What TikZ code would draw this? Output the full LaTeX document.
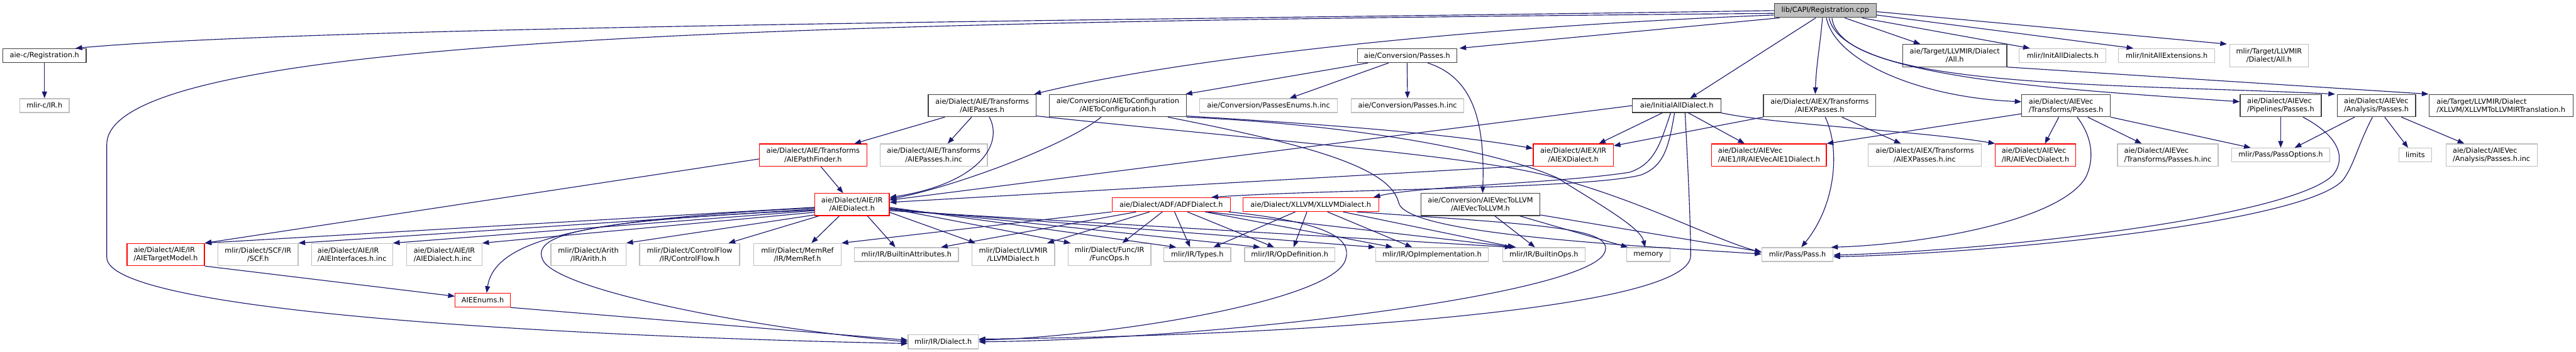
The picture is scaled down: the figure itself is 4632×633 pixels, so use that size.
\documentclass[tikz,border=0pt]{standalone}
\usepackage{fontspec}
\setmainfont{DejaVu Sans}
\usetikzlibrary{arrows.meta}
\definecolor{dxedge}{RGB}{25,25,112}
\definecolor{dxgrey}{RGB}{191,191,191}
\definecolor{dxdark}{RGB}{64,64,64}
\definecolor{dxred}{RGB}{255,0,0}

\begin{document}
\begin{tikzpicture}[x=1pt, y=-1pt, font=\fontsize{12.8}{15}\selectfont, >={Triangle[length=12pt,width=9pt]}]
  \tikzset{hdr/.style={draw, line width=1.4pt, align=center, inner xsep=3pt, inner ysep=2pt, minimum height=25pt, fill=white},rootbox/.style={hdr, draw=dxdark, fill=dxgrey},docbox/.style={hdr, draw=dxdark},extbox/.style={hdr, draw=dxgrey},cutbox/.style={hdr, draw=dxred},two/.style={minimum height=40pt},lft/.style={align=left},inc/.style={->, draw=dxedge, line width=1.3pt}}
  \useasboundingbox (0,0) rectangle (4632,633);
  % upper rows
  \node[rootbox, minimum width=183pt] (reg) at (3282,19) {lib/CAPI/Registration.cpp};
  \node[docbox, minimum width=150pt] (regh) at (80,100) {aie-c/Registration.h};
  \node[extbox, minimum width=89pt] (mlircir) at (80,190) {mlir-c/IR.h};
  \node[docbox, two, minimum width=194pt] (aiepasses) at (1766,190) {aie/Dialect/AIE/Transforms\\/AIEPasses.h};
  \node[docbox, two, minimum width=246pt] (aietoconf) at (2010,190) {aie/Conversion/AIEToConfiguration\\/AIEToConfiguration.h};
  \node[extbox, minimum width=248pt] (passesenums) at (2281,190) {aie/Conversion/PassesEnums.h.inc};
  \node[docbox, minimum width=179pt] (convpasses) at (2530,100) {aie/Conversion/Passes.h};
  \node[extbox, minimum width=202pt] (convpassesinc) at (2531,190) {aie/Conversion/Passes.h.inc};
  \node[docbox, minimum width=159pt] (initall) at (3015,190) {aie/InitialAllDialect.h};
  \node[docbox, two, minimum width=187pt] (aietgtall) at (3515,100) {aie/Target/LLVMIR/Dialect\\/All.h};
  \node[extbox, minimum width=156pt] (mlirinitdial) at (3709,100) {mlir/InitAllDialects.h};
  \node[extbox, minimum width=173pt] (mlirinitext) at (3896,100) {mlir/InitAllExtensions.h};
  \node[extbox, two, minimum width=142pt] (mlirtgtall) at (4080,100) {mlir/Target/LLVMIR\\/Dialect/All.h};
  \node[docbox, two, minimum width=202pt] (aiexpasses) at (3272,190) {aie/Dialect/AIEX/Transforms\\/AIEXPasses.h};
  \node[docbox, two, lft, minimum width=159pt] (vectrans) at (3715,190) {aie/Dialect/AIEVec\\/Transforms/Passes.h};
  \node[docbox, two, lft, minimum width=146pt] (vecpipe) at (4101,190) {aie/Dialect/AIEVec\\/Pipelines/Passes.h};
  \node[docbox, two, lft, minimum width=141pt] (vecanal) at (4273,190) {aie/Dialect/AIEVec\\/Analysis/Passes.h};
  \node[docbox, two, lft, minimum width=259pt] (xllvmtrans) at (4497,190) {aie/Target/LLVMIR/Dialect\\/XLLVM/XLLVMToLLVMIRTranslation.h};
  \node[cutbox, two, minimum width=193pt] (aiepathfinder) at (1462,279) {aie/Dialect/AIE/Transforms\\/AIEPathFinder.h};
  \node[extbox, two, minimum width=193pt] (aiepassesinc) at (1679,279) {aie/Dialect/AIE/Transforms\\/AIEPasses.h.inc};
  \node[cutbox, two, minimum width=144pt] (aiexdialect) at (2829,279) {aie/Dialect/AIEX/IR\\/AIEXDialect.h};
  \node[cutbox, two, lft, minimum width=206pt] (aie1) at (3181,279) {aie/Dialect/AIEVec\\/AIE1/IR/AIEVecAIE1Dialect.h};
  \node[extbox, two, minimum width=203pt] (aiexpassesinc) at (3461,279) {aie/Dialect/AIEX/Transforms\\/AIEXPasses.h.inc};
  \node[cutbox, two, lft, minimum width=144pt] (vecdialect) at (3660,279) {aie/Dialect/AIEVec\\/IR/AIEVecDialect.h};
  \node[extbox, two, lft, minimum width=181pt] (vectransinc) at (3898,279) {aie/Dialect/AIEVec\\/Transforms/Passes.h.inc};
  \node[extbox, minimum width=176pt] (passoptions) at (4101,279) {mlir/Pass/PassOptions.h};
  \node[extbox, minimum width=59pt] (limits) at (4343,279) {limits};
  \node[extbox, two, lft, minimum width=164pt] (vecanalinc) at (4480,279) {aie/Dialect/AIEVec\\/Analysis/Passes.h.inc};
  % dialect row
  \node[cutbox, two, minimum width=134pt] (aiedialect) at (1532,368) {aie/Dialect/AIE/IR\\/AIEDialect.h};
  \node[cutbox, minimum width=213pt] (adf) at (2106,368) {aie/Dialect/ADF/ADFDialect.h};
  \node[cutbox, minimum width=244pt] (xllvm) at (2357,368) {aie/Dialect/XLLVM/XLLVMDialect.h};
  \node[docbox, two, minimum width=214pt] (vectollvm) at (2662,368) {aie/Conversion/AIEVecToLLVM\\/AIEVecToLLVM.h};
  % lower rows
  \node[cutbox, two, lft, minimum width=139pt] (aietargetmodel) at (298,458) {aie/Dialect/AIE/IR\\/AIETargetModel.h};
  \node[extbox, two, minimum width=144pt] (scf) at (464,458) {mlir/Dialect/SCF/IR\\/SCF.h};
  \node[extbox, two, lft, minimum width=146pt] (aieinterfaces) at (633,458) {aie/Dialect/AIE/IR\\/AIEInterfaces.h.inc};
  \node[extbox, two, lft, minimum width=135pt] (aiedialectinc) at (799,458) {aie/Dialect/AIE/IR\\/AIEDialect.h.inc};
  \node[extbox, two, minimum width=135pt] (arith) at (1058,458) {mlir/Dialect/Arith\\/IR/Arith.h};
  \node[extbox, two, minimum width=180pt] (cf) at (1240,458) {mlir/Dialect/ControlFlow\\/IR/ControlFlow.h};
  \node[extbox, two, minimum width=157pt] (memref) at (1434,458) {mlir/Dialect/MemRef\\/IR/MemRef.h};
  \node[extbox, minimum width=187pt] (builtinattr) at (1630,458) {mlir/IR/BuiltinAttributes.h};
  \node[extbox, two, minimum width=149pt] (llvmdialect) at (1822,458) {mlir/Dialect/LLVMIR\\/LLVMDialect.h};
  \node[extbox, two, minimum width=149pt] (funcops) at (1995,458) {mlir/Dialect/Func/IR\\/FuncOps.h};
  \node[extbox, minimum width=120pt] (types) at (2153,458) {mlir/IR/Types.h};
  \node[extbox, minimum width=162pt] (opdef) at (2319,458) {mlir/IR/OpDefinition.h};
  \node[extbox, minimum width=203pt] (opimpl) at (2575,458) {mlir/IR/OpImplementation.h};
  \node[extbox, minimum width=148pt] (builtinops) at (2776,458) {mlir/IR/BuiltinOps.h};
  \node[extbox, minimum width=78pt] (memory) at (2964,458) {memory};
  \node[extbox, minimum width=128pt] (passh) at (3232,458) {mlir/Pass/Pass.h};
  \node[cutbox, minimum width=99pt] (aieenums) at (868,540) {AIEEnums.h};
  \node[extbox, minimum width=126pt] (dialecth) at (1696,615) {mlir/IR/Dialect.h};
  % includes of the root file
  \draw[inc] (reg.west) .. controls (2200,35) and (600,45) .. ([xshift=-20pt]regh.north east);
  \draw[inc] ([yshift=-5pt]reg.west) .. controls (1500,40) and (192,60) .. (192,260) -- (192,463) .. controls (192,560) and (1000,605) .. ([yshift=-3pt]dialecth.west);
  \draw[inc] ([yshift=-8pt]reg.west) .. controls (2600,50) and (2100,110) .. ([xshift=-4pt]aiepasses.north east);
  \draw[inc] ([xshift=10pt]reg.south west) -- ([xshift=4pt]convpasses.north east);
  \draw[inc] ([xshift=-17pt]reg.south) -- ([xshift=24pt]initall.north);
  \draw[inc] ([xshift=-5pt]reg.south) to[out=-95,in=88] ([xshift=-8pt]aiexpasses.north);
  \draw[inc] ([xshift=2pt]reg.south) .. controls (3300,110) and (3450,175) .. ([yshift=7pt]vectrans.west);
  \draw[inc] ([xshift=7pt]reg.south) .. controls (3310,140) and (3700,160) .. ([yshift=7pt]vecpipe.west);
  \draw[inc] ([xshift=12pt]reg.south) .. controls (3310,160) and (3800,150) .. ([xshift=-3pt]vecanal.north west);
  \draw[inc] ([xshift=35pt]reg.south) -- ([xshift=-62pt]aietgtall.north);
  \draw[inc] ([xshift=66pt]reg.south) -- ([xshift=-59pt]mlirinitdial.north);
  \draw[inc] ([yshift=-8pt]reg.east) -- ([xshift=-60pt]mlirinitext.north);
  \draw[inc] ([yshift=-2pt]reg.east) -- ([xshift=-4pt]mlirtgtall.north west);
  \draw[inc] (aietgtall.south east) -- (xllvmtrans.north west);
  \draw[inc] (regh) -- (mlircir);
  % conversion passes
  \draw[inc] ([xshift=-70pt]convpasses.south) -- ([xshift=-2pt]aietoconf.north east);
  \draw[inc] ([xshift=-33pt]convpasses.south) -- ([xshift=38pt]passesenums.north);
  \draw[inc] (convpasses) -- (convpassesinc);
  \draw[inc] ([xshift=37pt]convpasses.south) .. controls (2650,140) and (2670,220) .. ([xshift=4pt]vectollvm.north);
  \draw[inc] ([xshift=-30pt]aietoconf.south) .. controls (1920,260) and (1720,335) .. ([yshift=-11pt]aiedialect.north east);
  \draw[inc] ([yshift=2pt]aietoconf.south east) .. controls (2400,225) and (2600,240) .. ([yshift=12pt]aiexdialect.west);
  \draw[inc] ([xshift=90pt]aietoconf.south) .. controls (2350,260) and (2500,300) .. (2515,365) .. controls (2530,420) and (2900,440) .. ([yshift=1pt]passh.west);
  \draw[inc] (aietoconf.south east) .. controls (2450,225) and (2700,275) .. (2800,320) .. controls (2880,370) and (2950,410) .. ([xshift=-6pt]memory.north);
  % AIE transforms
  \draw[inc] ([xshift=-67pt]aiepasses.south) -- ([xshift=-23pt]aiepathfinder.north east);
  \draw[inc] ([xshift=-19pt]aiepasses.south) -- ([xshift=25pt]aiepassesinc.north);
  \draw[inc] ([xshift=13pt]aiepasses.south) .. controls (1805,260) and (1760,330) .. ([yshift=-8pt]aiedialect.north east);
  \draw[inc] ([yshift=2pt]aiepasses.south east) .. controls (2300,255) and (2650,280) .. (2790,318) .. controls (2950,360) and (3080,430) .. ([yshift=4pt]passh.west);
  \draw[inc] ([yshift=-7pt]aiepathfinder.west) -- (aietargetmodel.north east);
  \draw[inc] ([xshift=14pt]aiepathfinder.south) -- ([xshift=-16pt]aiedialect.north);
  % initial dialects
  \draw[inc] (initall.west) -- ([yshift=8pt]aiedialect.east);
  \draw[inc] ([xshift=-26pt]initall.south) -- ([xshift=46pt]aiexdialect.north);
  \draw[inc] ([xshift=-4pt]initall.south) .. controls (3000,270) and (2990,300) .. (2950,315) .. controls (2850,340) and (2400,340) .. ([xshift=-35pt]adf.north east);
  \draw[inc] ([xshift=-11pt]initall.south) .. controls (2985,260) and (2975,295) .. (2930,310) .. controls (2800,330) and (2550,335) .. ([xshift=-10pt]xllvm.north east);
  \draw[inc] ([xshift=15pt]initall.south) .. controls (3035,300) and (3040,400) .. (3040,460) .. controls (3040,560) and (2300,605) .. ([yshift=5pt]dialecth.east);
  \draw[inc] ([xshift=21pt]initall.south) -- ([xshift=-44pt]aie1.north);
  \draw[inc] (initall.south east) .. controls (3200,225) and (3450,235) .. (vecdialect.north west);
  % AIEX and AIEVec passes
  \draw[inc] (aiexpasses.south west) -- ([yshift=-4pt]aiexdialect.north east);
  \draw[inc] ([xshift=40pt]aiexpasses.south) -- ([xshift=-43pt]aiexpassesinc.north);
  \draw[inc] ([xshift=10pt]aiexpasses.south) .. controls (3310,270) and (3300,370) .. ([xshift=7pt]passh.north);
  \draw[inc] ([yshift=6pt]vectrans.south west) -- (aie1.north east);
  \draw[inc] ([xshift=-13pt]vectrans.south) -- ([xshift=17pt]vecdialect.north);
  \draw[inc] ([xshift=39pt]vectrans.south) -- ([xshift=-47pt]vectransinc.north);
  \draw[inc] (vectrans.south east) -- ([xshift=-54pt]passoptions.north);
  \draw[inc] ([xshift=20pt]vectrans.south) .. controls (3765,250) and (3765,290) .. (3750,320) .. controls (3700,400) and (3450,440) .. ([xshift=-4pt]passh.north east);
  \draw[inc] (vecpipe) -- (passoptions);
  \draw[inc] ([xshift=40pt]vecpipe.south) .. controls (4215,250) and (4215,290) .. (4195,315) .. controls (4120,390) and (3600,450) .. ([yshift=-1pt]passh.east);
  \draw[inc] ([xshift=-39pt]vecanal.south) -- ([xshift=25pt]passoptions.north);
  \draw[inc] ([xshift=15pt]vecanal.south) -- ([xshift=-13pt]limits.north);
  \draw[inc] ([xshift=45pt]vecanal.south) -- ([xshift=-49pt]vecanalinc.north);
  \draw[inc] ([xshift=-7pt]vecanal.south) .. controls (4240,260) and (4232,300) .. (4212,325) .. controls (4140,400) and (3600,455) .. ([yshift=-4pt]passh.east);
  % AIE dialect
  \draw[inc] ([yshift=2pt]aiexdialect.south west) -- ([yshift=4pt]aiedialect.east);
  \draw[inc] ([yshift=-5pt]aiedialect.west) -- (aietargetmodel.north east);
  \draw[inc] ([yshift=-8pt]aiedialect.west) -- (scf.north east);
  \draw[inc] ([yshift=-11pt]aiedialect.west) -- (aieinterfaces.north east);
  \draw[inc] ([yshift=-14pt]aiedialect.west) -- (aiedialectinc.north east);
  \draw[inc] ([yshift=-6pt]aiedialect.west) .. controls (1050,395) and (890,430) .. ([xshift=7pt]aieenums.north);
  \draw[inc] ([yshift=-10pt]aiedialect.west) .. controls (1100,395) and (955,415) .. (975,465) .. controls (990,520) and (1350,590) .. (dialecth.west);
  \draw[inc] ([yshift=2pt]aiedialect.south west) -- (arith.north east);
  \draw[inc] ([xshift=-60pt]aiedialect.south) -- ([xshift=70pt]cf.north);
  \draw[inc] ([xshift=-23pt]aiedialect.south) -- ([xshift=25pt]memref.north);
  \draw[inc] ([xshift=28pt]aiedialect.south) -- ([xshift=-20pt]builtinattr.north);
  \draw[inc] ([yshift=-14pt]aiedialect.east) -- ([xshift=-68pt]llvmdialect.north);
  \draw[inc] ([yshift=-7pt]aiedialect.east) -- ([xshift=-70pt]funcops.north);
  \draw[inc] ([yshift=-5pt]aiedialect.east) -- ([xshift=-38pt]types.north);
  \draw[inc] ([yshift=-7pt]aiedialect.east) -- ([xshift=-53pt]opdef.north);
  \draw[inc] ([yshift=-9pt]aiedialect.east) -- (opimpl.north west);
  \draw[inc] ([yshift=-11pt]aiedialect.east) -- ([xshift=-58pt]builtinops.north);
  \draw[inc] (aietargetmodel.south east) -- ([yshift=7pt]aieenums.west);
  \draw[inc] (aieenums.south east) -- ([yshift=3pt]dialecth.west);
  % ADF and XLLVM dialects
  \draw[inc] (adf.south west) -- (memref.north east);
  \draw[inc] ([xshift=-63pt]adf.south) -- ([xshift=62pt]builtinattr.north);
  \draw[inc] ([xshift=-39pt]adf.south) -- ([xshift=61pt]llvmdialect.north);
  \draw[inc] ([xshift=-16pt]adf.south) -- ([xshift=23pt]funcops.north);
  \draw[inc] ([xshift=6pt]adf.south) -- ([xshift=-13pt]types.north);
  \draw[inc] ([xshift=29pt]adf.south) -- ([xshift=-28pt]opdef.north);
  \draw[inc] ([xshift=61pt]adf.south) -- ([xshift=-71pt]opimpl.north);
  \draw[inc] ([xshift=66pt]adf.south) -- ([xshift=-50pt]builtinops.north);
  \draw[inc] ([xshift=-4pt]adf.south east) .. controls (2390,400) and (2430,430) .. (2420,465) .. controls (2405,540) and (2000,605) .. ([yshift=3pt]dialecth.east);
  \draw[inc] ([xshift=-28pt]xllvm.south) -- ([xshift=29pt]types.north);
  \draw[inc] ([xshift=-7pt]xllvm.south) -- ([xshift=7pt]opdef.north);
  \draw[inc] ([xshift=30pt]xllvm.south) -- ([xshift=-36pt]opimpl.north);
  \draw[inc] ([xshift=58pt]xllvm.south) -- ([xshift=-53pt]builtinops.north);
  \draw[inc] ([xshift=83pt]xllvm.south) .. controls (2780,405) and (2905,410) .. (2885,455) .. controls (2850,530) and (2200,610) .. (dialecth.east);
  \draw[inc] ([xshift=26pt]vectollvm.south) -- ([xshift=-16pt]builtinops.north);
  \draw[inc] ([xshift=71pt]vectollvm.south) -- ([xshift=-37pt]memory.north);
  \draw[inc] ([yshift=2pt]vectollvm.south east) -- ([yshift=5pt]passh.west);
\end{tikzpicture}
\end{document}
